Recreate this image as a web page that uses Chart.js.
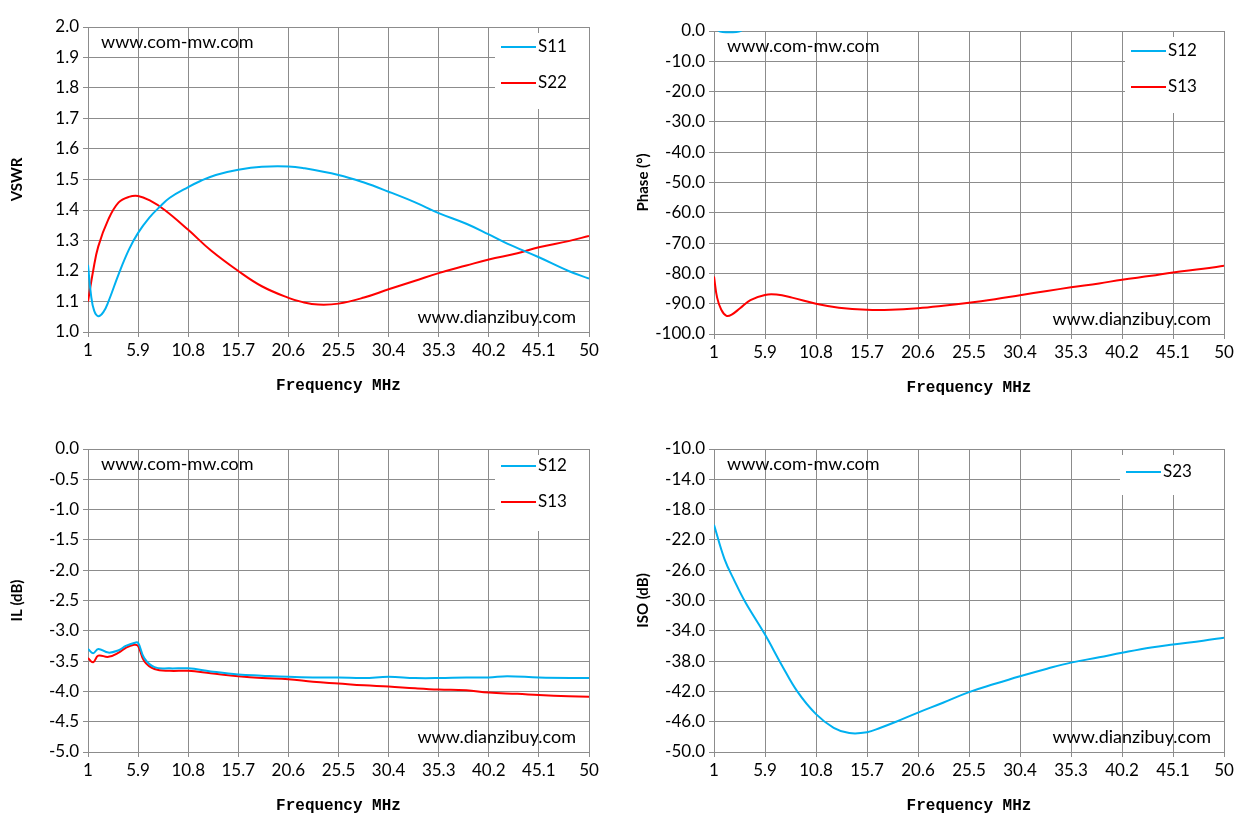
<!DOCTYPE html>
<html><head><meta charset="utf-8">
<script src="https://cdn.jsdelivr.net/npm/chart.js@4"></script>
<style>
body{margin:0;background:#fff;width:1251px;height:837px;overflow:hidden;position:relative}
.c{position:absolute}
</style></head><body>
<div class="c" id="d1" style="left:0;top:0;width:620px;height:410px"><canvas id="c1"></canvas></div>
<div class="c" id="d2" style="left:626px;top:0;width:625px;height:412px"><canvas id="c2"></canvas></div>
<div class="c" id="d3" style="left:0;top:420px;width:620px;height:410px"><canvas id="c3"></canvas></div>
<div class="c" id="d4" style="left:626px;top:420px;width:625px;height:410px"><canvas id="c4"></canvas></div>
<script>
const xTicks=[1,5.9,10.8,15.7,20.6,25.5,30.4,35.3,40.2,45.1,50];
const vswrS11=[[1,1.22],[1.3,1.12],[1.6,1.07],[2,1.052],[2.5,1.065],[3,1.1],[4,1.19],[5,1.27],[5.9,1.325],[7,1.375],[8,1.41],[9,1.44],[10.8,1.475],[12,1.495],[13.5,1.515],[15.7,1.532],[18,1.542],[20.6,1.543],[22,1.538],[25.5,1.515],[28,1.49],[30.4,1.46],[33,1.425],[35.3,1.39],[38,1.355],[40.2,1.32],[42,1.29],[45.1,1.245],[48,1.2],[50,1.175]];
const vswrS22=[[1,1.1],[1.5,1.2],[2,1.28],[3,1.37],[4,1.425],[5,1.443],[5.9,1.446],[7,1.432],[8.5,1.4],[10.8,1.335],[13,1.268],[15.7,1.2],[18,1.15],[20.6,1.112],[22,1.098],[23.5,1.09],[25.5,1.093],[28,1.113],[30.4,1.14],[33,1.168],[35.3,1.193],[38,1.218],[40.2,1.238],[43,1.258],[45.1,1.278],[48,1.298],[50,1.315]];
const phS12=[[1.2,1],[1.6,-0.2],[2.5,-0.4],[3.4,-0.2],[4,1]];
const phS13=[[1,-81],[1.3,-88],[1.7,-92],[2.2,-94],[2.7,-93.6],[3.5,-91.5],[4.5,-88.8],[5.9,-87.1],[7,-87],[8.5,-88],[10.8,-90],[13,-91.3],[15.7,-92],[18,-92],[20.6,-91.5],[23,-90.7],[25.5,-89.7],[28,-88.5],[30.4,-87.2],[33,-85.8],[35.3,-84.6],[38,-83.3],[40.2,-82.1],[43,-80.8],[45.1,-79.7],[48,-78.5],[50,-77.5]];
const ilS12=[[1,-3.3],[1.5,-3.37],[2,-3.3],[3,-3.36],[4,-3.32],[4.7,-3.25],[5.5,-3.2],[5.9,-3.2],[6.5,-3.45],[7.5,-3.6],[9,-3.62],[10.8,-3.62],[13,-3.67],[15.7,-3.72],[18,-3.74],[20.6,-3.76],[23,-3.77],[25.5,-3.77],[28,-3.78],[30.4,-3.76],[33,-3.78],[35.3,-3.78],[38,-3.77],[40.2,-3.77],[42,-3.75],[45.1,-3.77],[50,-3.78]];
const ilS13=[[1,-3.45],[1.5,-3.52],[2,-3.41],[3,-3.43],[4,-3.36],[4.7,-3.28],[5.5,-3.23],[5.9,-3.25],[6.5,-3.5],[7.5,-3.63],[9,-3.66],[10.8,-3.66],[13,-3.7],[15.7,-3.75],[18,-3.78],[20.6,-3.8],[23,-3.84],[25.5,-3.87],[28,-3.9],[30.4,-3.92],[33,-3.95],[35.3,-3.97],[38,-3.98],[40.2,-4.02],[43,-4.04],[45.1,-4.06],[48,-4.08],[50,-4.09]];
const isoS23=[[1,-20],[2,-24.5],[3,-27.5],[4,-30.2],[5.9,-34.5],[7.5,-38.5],[9,-42],[10.8,-45],[12.5,-46.8],[14,-47.5],[15.7,-47.4],[17,-46.8],[18.5,-46],[20.6,-44.8],[23,-43.5],[25.5,-42.1],[28,-41],[30.4,-40],[33,-39],[35.3,-38.2],[38,-37.5],[40.2,-36.9],[43,-36.2],[45.1,-35.8],[48,-35.3],[50,-34.9]];
const BLUE='#00b0f0',RED='#ff0000',GRID='#8c8c8c';
const F='Lato, "Open Sans", sans-serif';
function pts(a){return a.map(p=>({x:p[0],y:p[1]}));}
const deco={id:'deco',afterDatasetsDraw(ch,a,o){const c=ch.ctx,ca=ch.chartArea;c.save();
 const n=ch.data.datasets.length;const bx=o.lx,bw=ca.right-o.lx;c.fillStyle='#fff';
 c.fillRect(bx,ca.top+6,bw,n*36+4);
 ch.data.datasets.forEach((d,i)=>{const y=ca.top+o.ly+i*36;c.strokeStyle=d.borderColor;c.lineWidth=2;c.beginPath();c.moveTo(bx+6,y);c.lineTo(bx+41,y);c.stroke();
  c.fillStyle='#000';c.font='17px '+F;c.textBaseline='middle';c.textAlign='left';c.fillText(d.label,bx+43,y);});
 c.font='18px '+F;c.fillStyle='#000';c.textBaseline='middle';c.textAlign='left';c.fillText('www.com-mw.com',ca.left+13,ca.top+15);
 c.textAlign='right';c.fillText('www.dianzibuy.com',ca.right-13,ca.bottom-15);c.restore();}};
function make(id,ds,ymin,ymax,step,dec,ytitle,padTop,lx,ly,padRight){
 new Chart(document.getElementById(id),{type:'line',
  data:{datasets:ds.map(d=>({label:d[0],data:pts(d[1]),borderColor:d[2],borderWidth:2,pointRadius:0,tension:0.4,fill:false}))},
  options:{responsive:true,maintainAspectRatio:false,animation:false,
   layout:{padding:{top:padTop,right:padRight,left:0,bottom:0}},
   plugins:{legend:{display:false},tooltip:{enabled:false},deco:{lx:lx,ly:ly}},
   scales:{
    x:{type:'linear',min:1,max:50,afterBuildTicks(s){s.ticks=xTicks.map(v=>({value:v}));},
     afterFit(s){s.height=78;},
     grid:{color:GRID,lineWidth:1,tickLength:5,drawTicks:true},border:{color:GRID},
     ticks:{color:'#000',font:{size:17,family:F},maxRotation:0,autoSkip:false,padding:3,callback:v=>(v===1||v===50)?String(v):v.toFixed(1)},
     title:{display:true,text:'Frequency MHz',color:'#000',font:{size:16,weight:'bold',family:'"Liberation Mono", monospace'},padding:{top:8,bottom:14}}},
    y:{min:ymin,max:ymax,afterBuildTicks(s){const t=[];for(let v=ymin;v<=ymax+1e-9;v+=step)t.push({value:+v.toFixed(4)});s.ticks=t;},
     afterFit(s){s.width=88;},
     grid:{color:GRID,lineWidth:1,tickLength:5},border:{color:GRID},
     ticks:{color:'#000',font:{size:17,family:F},padding:4,callback:v=>v.toFixed(dec)},
     title:{display:true,text:ytitle,color:'#000',font:{size:15,weight:'bold',family:F},padding:{top:8,bottom:6}}}}},
  plugins:[deco]});}
make('c1',[['S11',vswrS11,BLUE],['S22',vswrS22,RED]],1,2,0.1,1,'VSWR',27,495,20,31);
make('c2',[['S12',phS12,BLUE],['S13',phS13,RED]],-100,0,10,1,'Phase (°)',31,499,20,27);
make('c3',[['S12',ilS12,BLUE],['S13',ilS13,RED]],-5,0,0.5,1,'IL (dB)',29,495,17,31);
make('c4',[['S23',isoS23,BLUE]],-50,-10,4,1,'ISO (dB)',29,494,23,27);
</script></body></html>
